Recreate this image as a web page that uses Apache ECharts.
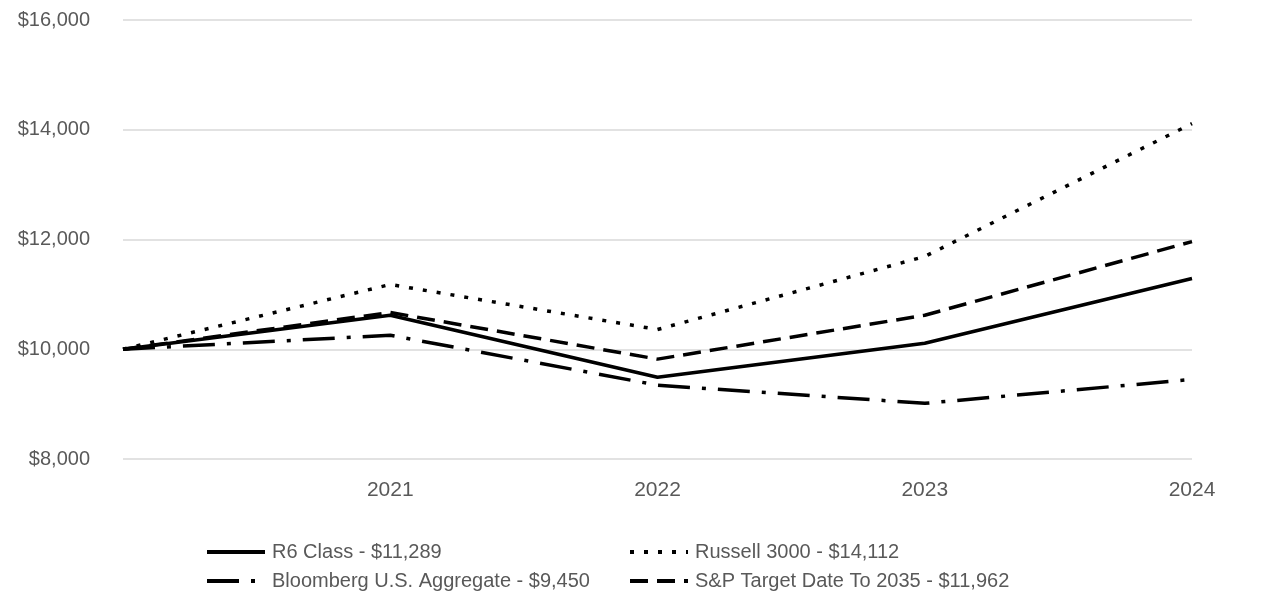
<!DOCTYPE html>
<html><head><meta charset="utf-8">
<script src="https://cdn.jsdelivr.net/npm/echarts@6/dist/echarts.min.js"></script>
<style>html,body{margin:0;padding:0;background:#fff}#c{width:1286px;height:614px}</style>
</head><body><div id="c"></div>
<script>
var categories = ['', '2021', '2022', '2023', '2024'];
var r6Class = [10000, 10620, 9490, 10110, 11289];
var russell3000 = [10000, 11180, 10360, 11690, 14112];
var bloombergAgg = [10000, 10255, 9345, 9015, 9450];
var spTarget2035 = [10000, 10670, 9820, 10620, 11962];
var seriesNames = ['R6 Class - $11,289', 'Russell 3000 - $14,112', 'Bloomberg U.S. Aggregate - $9,450', 'S&P Target Date To 2035 - $11,962'];

var FONT = '"Liberation Sans", Arial, sans-serif';
function mk(name, data, dash) {
  return {
    name: name, type: 'line', data: data, symbol: 'none', showSymbol: false,
    lineStyle: { color: '#000', width: 3.5, type: dash, cap: 'butt' },
    itemStyle: { color: '#000' },
    emphasis: { disabled: true }, animation: false
  };
}
var legendCommon = {
  orient: 'vertical', top: 542, padding: 0, itemWidth: 58, itemHeight: 14, itemGap: 9,
  itemStyle: { opacity: 0 },
  lineStyle: { width: 4 },
  textStyle: { color: '#595959', fontSize: 20, fontFamily: FONT, padding: [0, 0, 0, 2] }
};
var chart = echarts.init(document.getElementById('c'));
chart.setOption({
  animation: false,
  grid: { left: 123, right: 94, top: 20, bottom: 155, containLabel: false },
  xAxis: {
    type: 'category', data: categories, boundaryGap: false,
    axisLine: { show: false }, axisTick: { show: false },
    axisLabel: { color: '#595959', fontSize: 21, fontFamily: FONT, margin: 21 }
  },
  yAxis: {
    type: 'value', min: 8000, max: 16000, interval: 2000,
    axisLine: { show: false }, axisTick: { show: false },
    splitLine: { lineStyle: { color: '#d9d9d9', width: 1.5 } },
    axisLabel: { color: '#595959', fontSize: 20, fontFamily: FONT, margin: 33,
      formatter: function (v) { return '$' + v.toLocaleString('en-US'); } }
  },
  legend: [
    Object.assign({}, legendCommon, { left: 205, data: [seriesNames[0], seriesNames[2]] }),
    Object.assign({}, legendCommon, { left: 628, data: [seriesNames[1], seriesNames[3]] })
  ],
  series: [
    mk(seriesNames[0], r6Class, 'solid'),
    mk(seriesNames[1], russell3000, [4, 10]),
    mk(seriesNames[2], bloombergAgg, [32, 12, 4, 12]),
    mk(seriesNames[3], spTarget2035, [18, 9])
  ]
});
</script></body></html>
